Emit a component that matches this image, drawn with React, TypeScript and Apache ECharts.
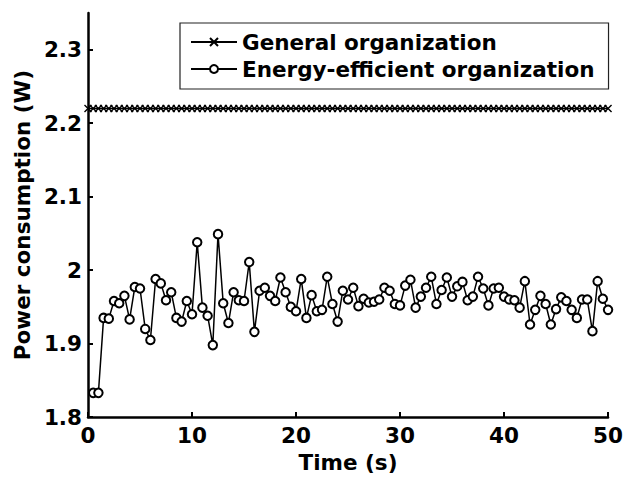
import React, { useEffect, useRef } from "react";
import * as echarts from "echarts";

// Time stamps (s)
const time: number[] = [
  0, 0.5, 1, 1.5, 2, 2.5, 3, 3.5, 4, 4.5, 5, 5.5, 6, 6.5, 7, 7.5, 8, 8.5, 9, 9.5,
  10, 10.5, 11, 11.5, 12, 12.5, 13, 13.5, 14, 14.5, 15, 15.5, 16, 16.5, 17, 17.5, 18, 18.5, 19, 19.5,
  20, 20.5, 21, 21.5, 22, 22.5, 23, 23.5, 24, 24.5, 25, 25.5, 26, 26.5, 27, 27.5, 28, 28.5, 29, 29.5,
  30, 30.5, 31, 31.5, 32, 32.5, 33, 33.5, 34, 34.5, 35, 35.5, 36, 36.5, 37, 37.5, 38, 38.5, 39, 39.5,
  40, 40.5, 41, 41.5, 42, 42.5, 43, 43.5, 44, 44.5, 45, 45.5, 46, 46.5, 47, 47.5, 48, 48.5, 49, 49.5,
  50,
];

// General organization (W)
const general: number[] = [
  2.22, 2.22, 2.22, 2.22, 2.22, 2.22, 2.22, 2.22, 2.22, 2.22, 2.22, 2.22, 2.22, 2.22, 2.22, 2.22, 2.22, 2.22, 2.22, 2.22,
  2.22, 2.22, 2.22, 2.22, 2.22, 2.22, 2.22, 2.22, 2.22, 2.22, 2.22, 2.22, 2.22, 2.22, 2.22, 2.22, 2.22, 2.22, 2.22, 2.22,
  2.22, 2.22, 2.22, 2.22, 2.22, 2.22, 2.22, 2.22, 2.22, 2.22, 2.22, 2.22, 2.22, 2.22, 2.22, 2.22, 2.22, 2.22, 2.22, 2.22,
  2.22, 2.22, 2.22, 2.22, 2.22, 2.22, 2.22, 2.22, 2.22, 2.22, 2.22, 2.22, 2.22, 2.22, 2.22, 2.22, 2.22, 2.22, 2.22, 2.22,
  2.22, 2.22, 2.22, 2.22, 2.22, 2.22, 2.22, 2.22, 2.22, 2.22, 2.22, 2.22, 2.22, 2.22, 2.22, 2.22, 2.22, 2.22, 2.22, 2.22,
  2.22,
];

// Energy-efficient organization (W), no sample at t = 0
const energy: (number | null)[] = [
  null, 1.833, 1.833, 1.935, 1.934, 1.958, 1.955, 1.965, 1.933, 1.977,
  1.975, 1.92, 1.905, 1.988, 1.982, 1.959, 1.97, 1.935, 1.93, 1.958,
  1.94, 2.038, 1.949, 1.938, 1.898, 2.049, 1.955, 1.928, 1.97, 1.959,
  1.958, 2.011, 1.916, 1.972, 1.976, 1.965, 1.958, 1.99, 1.97, 1.95,
  1.944, 1.988, 1.935, 1.966, 1.944, 1.946, 1.991, 1.954, 1.93, 1.972,
  1.96, 1.976, 1.951, 1.961, 1.956, 1.957, 1.96, 1.976, 1.972, 1.954,
  1.952, 1.979, 1.987, 1.949, 1.964, 1.976, 1.991, 1.954, 1.973, 1.99,
  1.964, 1.978, 1.984, 1.959, 1.964, 1.991, 1.975, 1.952, 1.975, 1.976,
  1.964, 1.96, 1.959, 1.949, 1.985, 1.926, 1.946, 1.965, 1.954, 1.926,
  1.947, 1.963, 1.958, 1.946, 1.935, 1.96, 1.96, 1.917, 1.985, 1.961,
  1.946,
];

const seriesNames = ["General organization", "Energy-efficient organization"];
const xTitle = "Time (s)";
const yTitle = "Power consumption (W)";

const FONT = "DejaVu Sans";
const FS = 21.5;

export default function App() {
  const ref = useRef<HTMLDivElement>(null);

  useEffect(() => {
    if (!ref.current) return;
    const chart = echarts.init(ref.current, undefined, { renderer: "svg" });

    const textStyle = { fontFamily: FONT, fontSize: FS, fontWeight: "bold" as const, color: "#000" };

    chart.setOption({
      animation: false,
      backgroundColor: "#fff",
      grid: { left: 88, right: 12, top: 13, bottom: 60, containLabel: false },
      xAxis: {
        type: "value",
        min: 0,
        max: 50,
        interval: 10,
        name: xTitle,
        nameLocation: "middle",
        nameGap: 25,
        nameTextStyle: textStyle,
        axisLine: { show: true, onZero: false, lineStyle: { color: "#000", width: 2.5 } },
        axisTick: { show: true, inside: true, length: 5, lineStyle: { color: "#000", width: 2 } },
        axisLabel: { ...textStyle, margin: 7 },
        splitLine: { show: false },
      },
      yAxis: {
        type: "value",
        min: 1.8,
        max: 2.35,
        interval: 0.1,
        name: yTitle,
        nameLocation: "middle",
        nameGap: 50,
        nameTextStyle: textStyle,
        axisLine: { show: true, onZero: false, lineStyle: { color: "#000", width: 2.5 } },
        axisTick: { show: true, inside: true, length: 5, lineStyle: { color: "#000", width: 2 } },
        axisLabel: {
          ...textStyle,
          margin: 6,
          showMaxLabel: false,
          formatter: (v: number) => {
            const r = Math.round(v * 100) / 100;
            if (Math.abs(r * 10 - Math.round(r * 10)) > 1e-6) return "";
            const s = r.toFixed(1);
            return s.endsWith(".0") ? s.slice(0, -2) : s;
          },
        },
        splitLine: { show: false },
      },
      legend: {
        orient: "vertical",
        left: 180,
        top: 23,
        padding: [8, 14, 9, 10],
        itemWidth: 46,
        itemHeight: 10,
        itemGap: 5,
        borderColor: "#222",
        borderWidth: 1.2,
        backgroundColor: "#fff",
        textStyle: { ...textStyle },
        data: seriesNames,
      },
      series: [
        {
          name: seriesNames[0],
          type: "line",
          data: time.map((t, i) => [t, general[i]]),
          symbol: "path://M0,0L10,10M0,10L10,0",
          symbolSize: 7,
          lineStyle: { color: "#000", width: 1.5 },
          itemStyle: { color: "#000", borderColor: "#000", borderWidth: 1.4 },
          z: 3,
        },
        {
          name: seriesNames[1],
          type: "line",
          data: time.map((t, i) => [t, energy[i]]),
          symbol: "emptyCircle",
          symbolSize: 8.5,
          lineStyle: { color: "#000", width: 1.5 },
          itemStyle: { color: "#000", borderColor: "#000", borderWidth: 1.6 },
          z: 3,
        },
      ],
    });

    return () => chart.dispose();
  }, []);

  return (
    <div
      ref={ref}
      style={{ position: "absolute", left: 0, top: 0, width: 626, height: 478 }}
    />
  );
}
